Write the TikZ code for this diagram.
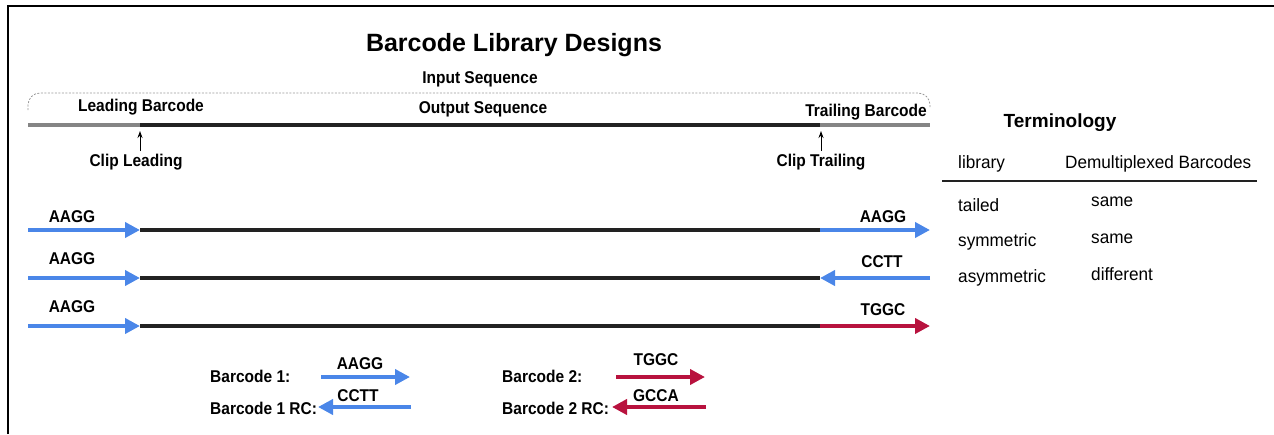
\documentclass[tikz,border=0pt]{standalone}
\usepackage{fontspec}
\setmainfont{Liberation Sans}
\usetikzlibrary{arrows.meta}
\definecolor{bcblue}{HTML}{4A86E8}
\definecolor{bcred}{HTML}{B8123E}
\definecolor{seqblack}{HTML}{222222}
\definecolor{seqgray}{HTML}{858585}
\tikzset{
  lbl/.style={font=\fontsize{15.5}{18}\selectfont\bfseries, inner sep=0pt, yscale=1.1, transform shape},
  ttl/.style={font=\fontsize{25}{28}\selectfont\bfseries, inner sep=0pt},
  termhead/.style={font=\fontsize{19}{22}\selectfont\bfseries, inner sep=0pt},
  tbl/.style={font=\fontsize{16.5}{19}\selectfont, inner sep=0pt, anchor=west, xscale=1.04, yscale=1.08, transform shape},
  seq/.style={line width=4.5pt, seqblack},
  flank/.style={line width=4.5pt, seqgray},
  bcarrow/.style={line width=4pt, -{Triangle[length=15pt,width=15pt]}},
  cliparrow/.style={line width=0.9pt, -{Stealth[length=7pt,width=5pt]}},
}
\begin{document}
\begin{tikzpicture}[x=1pt,y=-1pt]
\useasboundingbox (0,0) rectangle (1274,434);
% frame
\draw[line width=2pt] (7.5,434) -- (7.5,5.5) -- (1274,5.5);

% titles
\node[ttl] (title) at (514,45) {Barcode Library Designs};
\node[lbl] (input) at (480,79) {Input Sequence};

% bracket
\draw[dashed, dash pattern=on 2pt off 1.5pt, line width=0.8pt, gray!80, rounded corners=12pt]
  (28,110) -- (28,93) -- (930,93) -- (930,108);

% top sequence
\coordinate (t0) at (28,125);
\coordinate (t1) at (140,125);
\coordinate (t2) at (820,125);
\coordinate (t3) at (930,125);
\draw[flank] (t0) -- (t1);
\draw[seq] (t1) -- (t2);
\draw[flank] (t2) -- (t3);
\node[lbl] (lead) at (141,107) {Leading Barcode};
\node[lbl] (out) at (483,109) {Output Sequence};
\node[lbl] (trail) at (866,112) {Trailing Barcode};

\node[lbl] (clipL) at (136,162) {Clip Leading};
\node[lbl] (clipT) at (821,162) {Clip Trailing};
\coordinate (cl0) at (140,151);
\coordinate (cl1) at (140,131);
\coordinate (ct0) at (821,151);
\coordinate (ct1) at (821,131);
\draw[cliparrow] (cl0) -- (cl1);
\draw[cliparrow] (ct0) -- (ct1);

% rows
\foreach \y/\n in {230/1,278/2,326/3}{
  \coordinate (a\n) at (28,\y);
  \coordinate (b\n) at (140,\y);
  \coordinate (c\n) at (820,\y);
  \coordinate (d\n) at (930,\y);
  \draw[seq] (b\n) -- (c\n);
  \draw[bcarrow, bcblue] (a\n) -- (b\n);
}
\draw[bcarrow, bcblue] (c1) -- (d1);
\draw[bcarrow, bcblue] (d2) -- (c2);
\draw[bcarrow, bcred] (c3) -- (d3);

\node[lbl] (l1) at (72,217) {AAGG};
\node[lbl] (l2) at (72,259) {AAGG};
\node[lbl] (l3) at (72,307) {AAGG};
\node[lbl] (r1) at (883,217) {AAGG};
\node[lbl] (r2) at (882,262) {CCTT};
\node[lbl] (r3) at (883,310) {TGGC};

% terminology
\node[termhead] (term) at (1060,123) {Terminology};
\node[tbl] (h1) at (958,164) {library};
\node[tbl] (h2) at (1065,164) {Demultiplexed Barcodes};
\coordinate (rl0) at (942,181);
\coordinate (rl1) at (1257,181);
\draw[line width=1.8pt, seqblack] (rl0) -- (rl1);
\node[tbl] (c11) at (958,205) {tailed};
\node[tbl] (c12) at (1091,202) {same};
\node[tbl] (c21) at (958,242) {symmetric};
\node[tbl] (c22) at (1091,239) {same};
\node[tbl] (c31) at (958,278) {asymmetric};
\node[tbl] (c32) at (1091,274) {different};

% legend
\node[lbl, anchor=west] (k1) at (210,376) {Barcode 1:};
\node[lbl, anchor=west] (k1rc) at (210,408) {Barcode 1 RC:};
\node[lbl, anchor=west] (k2) at (502,376) {Barcode 2:};
\node[lbl, anchor=west] (k2rc) at (502,408) {Barcode 2 RC:};
\coordinate (e1a) at (321,377);
\coordinate (e1b) at (410,377);
\coordinate (f1a) at (411,407);
\coordinate (f1b) at (318,407);
\coordinate (e2a) at (616,377);
\coordinate (e2b) at (705,377);
\coordinate (f2a) at (706,407);
\coordinate (f2b) at (612,407);
\draw[bcarrow, bcblue] (e1a) -- (e1b);
\draw[bcarrow, bcblue] (f1a) -- (f1b);
\draw[bcarrow, bcred] (e2a) -- (e2b);
\draw[bcarrow, bcred] (f2a) -- (f2b);
\node[lbl] (s1) at (360,364) {AAGG};
\node[lbl] (s1rc) at (358,396) {CCTT};
\node[lbl] (s2) at (656,360) {TGGC};
\node[lbl] (s2rc) at (656,396) {GCCA};
\end{tikzpicture}
\end{document}
